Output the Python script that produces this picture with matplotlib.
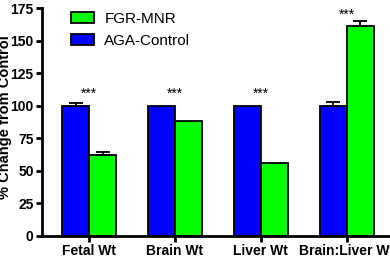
import numpy as np
import matplotlib.pyplot as plt

plt.rcParams['font.family'] = ['Liberation Sans', 'DejaVu Sans']

categories = ["Fetal Wt", "Brain Wt", "Liver Wt", "Brain:Liver Wt"]
aga_vals = [100, 100, 100, 100]
aga_err = [2.3, 0, 0, 2.8]
fgr_vals = [62, 88, 56, 161]
fgr_err = [2.5, 0, 0, 4]
stars = ["***", "***", "***", "***"]
star_y = [109, 109, 109, 170]

fig = plt.figure(figsize=(3.9, 2.61), dpi=100)
ax = fig.add_axes([0.1077, 0.0958, 0.8923, 0.873])

x = np.arange(len(categories))
w = 0.315
ax.bar(x - w/2, aga_vals, w, color='#0000ff', edgecolor='black', linewidth=1.3,
       label='AGA-Control', zorder=2)
ax.bar(x + w/2, fgr_vals, w, color='#00ff00', edgecolor='black', linewidth=1.3,
       label='FGR-MNR', zorder=2)
for i in range(len(x)):
    if aga_err[i] > 0:
        ax.errorbar(x[i] - w/2, aga_vals[i], yerr=[[0], [aga_err[i]]], fmt='none',
                    ecolor='black', elinewidth=1.3, capsize=5, capthick=1.3, zorder=3)
    if fgr_err[i] > 0:
        ax.errorbar(x[i] + w/2, fgr_vals[i], yerr=[[0], [fgr_err[i]]], fmt='none',
                    ecolor='black', elinewidth=1.3, capsize=5, capthick=1.3, zorder=3)
    ax.text(x[i], star_y[i], stars[i], ha='center', va='center', fontsize=10)

ax.set_xlim(-0.548, 3.505)
ax.set_ylim(0, 175)
ax.set_yticks([0, 25, 50, 75, 100, 125, 150, 175])
ax.set_xticks(x)
ax.set_xticklabels(categories, fontweight='bold', fontsize=10)
for lab in ax.get_yticklabels():
    lab.set_fontweight('bold')
    lab.set_fontsize(10)
ax.set_ylabel('% Change from Control', fontweight='bold', fontsize=10.5)
ax.yaxis.set_label_coords(-0.086, 0.52)

for s in ['top', 'right']:
    ax.spines[s].set_visible(False)
for s in ['left', 'bottom']:
    ax.spines[s].set_linewidth(2)
ax.tick_params(width=2, length=4, pad=2)

h, l = ax.get_legend_handles_labels()
ax.legend(h[::-1], l[::-1], loc='upper left', bbox_to_anchor=(0.045, 1.045), frameon=False,
          fontsize=11, handlelength=1.45, handleheight=0.75, handletextpad=0.7,
          labelspacing=0.55)

fig.savefig('out.png', dpi=100)
